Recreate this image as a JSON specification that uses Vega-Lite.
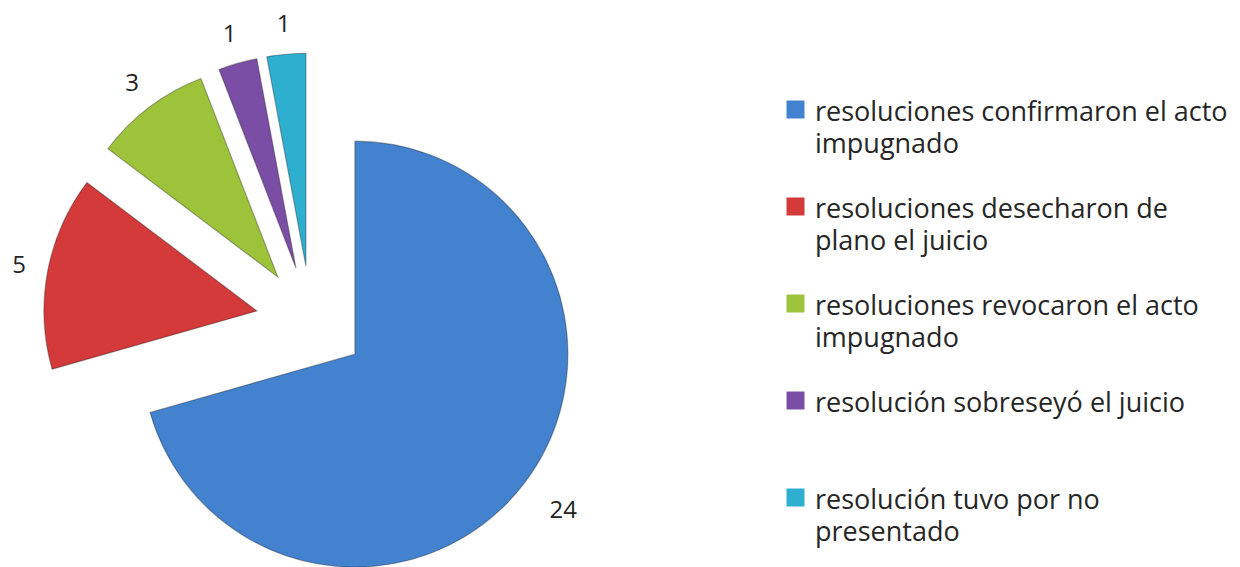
{
  "$schema": "https://vega.github.io/schema/vega-lite/v6.json",
  "width": 622,
  "height": 642,
  "autosize": {"type": "none"},
  "padding": {"left": 0, "top": 0, "right": 618, "bottom": 0},
  "background": "white",
  "config": {
    "view": {"stroke": null},
    "style": {"guide-label": {"lineHeight": 32, "dy": -10}}
  },
  "data": {
    "values": [
      {"cat": "resoluciones confirmaron el acto|impugnado", "value": 24, "order": 1},
      {"cat": "resoluciones desecharon de|plano el juicio", "value": 5, "order": 2},
      {"cat": "resoluciones revocaron el acto|impugnado", "value": 3, "order": 3},
      {"cat": "resolución sobreseyó el  juicio| ", "value": 1, "order": 4},
      {"cat": "resolución tuvo por no|presentado", "value": 1, "order": 5}
    ]
  },
  "transform": [
    {"stack": "value", "groupby": [], "sort": [{"field": "order", "order": "ascending"}], "as": ["v0", "v1"]},
    {"calculate": "(datum.v0 + datum.v1) / 2", "as": "mid"}
  ],
  "layer": [
    {
      "mark": {
        "type": "arc",
        "outerRadius": 213,
        "xOffset": {"expr": "55 * sin(PI * (datum.v0 + datum.v1) / 34)"},
        "yOffset": {"expr": "-55 * cos(PI * (datum.v0 + datum.v1) / 34)"},
        "stroke": "#1a1a1a",
        "strokeOpacity": 0.35,
        "strokeWidth": 1.2
      },
      "encoding": {
        "theta": {"field": "v0", "type": "quantitative", "stack": null, "scale": {"domain": [0, 34]}},
        "theta2": {"field": "v1"},
        "color": {
          "field": "cat",
          "type": "nominal",
          "sort": null,
          "scale": {
            "domain": [
              "resoluciones confirmaron el acto|impugnado",
              "resoluciones desecharon de|plano el juicio",
              "resoluciones revocaron el acto|impugnado",
              "resolución sobreseyó el  juicio| ",
              "resolución tuvo por no|presentado"
            ],
            "range": ["#4282CF", "#D43A3A", "#9DC33B", "#7B4EA6", "#2FAFCF"]
          },
          "legend": {
            "title": null,
            "orient": "none",
            "legendX": 782,
            "legendY": 96,
            "padding": 0,
            "symbolType": "square",
            "symbolSize": 324,
            "symbolStrokeWidth": 0,
            "labelOffset": 6,
            "labelFont": "Open Sans",
            "labelFontSize": 27,
            "labelColor": "#262626",
            "labelLimit": 0,
            "labelBaseline": "top",
            "rowPadding": 35,
            "labelExpr": "split(datum.value, '|')"
          }
        }
      }
    },
    {
      "mark": {
        "type": "text",
        "radius": {"expr": "datum.value > 20 ? 261 : 242"},
        "xOffset": {"expr": "55 * sin(PI * (datum.v0 + datum.v1) / 34)"},
        "yOffset": {"expr": "-55 * cos(PI * (datum.v0 + datum.v1) / 34)"},
        "font": "Open Sans",
        "fontSize": 24,
        "color": "#222222",
        "align": "center",
        "baseline": "middle"
      },
      "encoding": {
        "theta": {"field": "mid", "type": "quantitative", "stack": null, "scale": {"domain": [0, 34]}},
        "text": {"field": "value", "type": "quantitative"}
      }
    }
  ]
}
